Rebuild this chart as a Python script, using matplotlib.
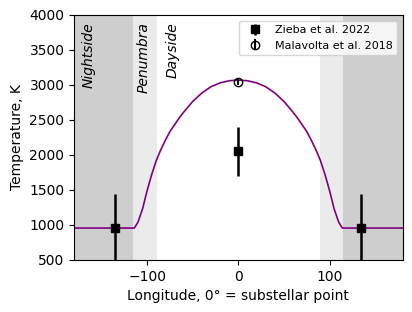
import numpy as np
import matplotlib
matplotlib.use('Agg')
import matplotlib.pyplot as plt

# temperature profile (longitude in deg, T in K)
model_lon = [-180, -114, -110, -105, -100, -95, -90, -85, -80, -75, -70, -65, -60, -50, -40,
             -30, -20, -10, 0, 10, 20, 30, 40, 50, 60, 65, 70, 75, 80, 85, 90, 95, 100,
             105, 110, 114, 180]
model_T = [955, 955, 1040, 1230, 1490, 1720, 1920, 2075, 2210, 2335, 2430, 2525, 2610, 2765, 2885,
           2975, 3030, 3060, 3070, 3060, 3030, 2975, 2885, 2765, 2610, 2525, 2430, 2335, 2210,
           2075, 1920, 1720, 1490, 1230, 1040, 955, 955]

# Zieba et al. 2022
zieba_lon = [-135, 0, 135]
zieba_T = [955, 2050, 955]
zieba_err = [490, 350, 490]

# Malavolta et al. 2018
mala_lon = [0]
mala_T = [3045]
mala_err = [50]

fig = plt.figure(figsize=(4.12, 3.12), dpi=100)
ax = fig.add_axes([0.18, 0.167, 0.797, 0.785])

# shaded regions
ax.axvspan(-180, -115, color='black', alpha=0.12, lw=0)
ax.axvspan(115, 180, color='black', alpha=0.12, lw=0)
ax.axvspan(-180, -89, color='black', alpha=0.08, lw=0)
ax.axvspan(89, 180, color='black', alpha=0.08, lw=0)

ax.plot(model_lon, model_T, color='purple', lw=1.2)

ax.errorbar(zieba_lon, zieba_T, yerr=zieba_err, fmt='s', color='black',
            ms=6, elinewidth=1.8, label='Zieba et al. 2022', zorder=5)
ax.errorbar(mala_lon, mala_T, yerr=mala_err, fmt='o', color='black', mfc='none',
            ms=6, elinewidth=1.5, label='Malavolta et al. 2018', zorder=5)

for xt, s in [(-164, 'Nightside'), (-104, 'Penumbra'), (-72, 'Dayside')]:
    ax.text(xt, 3900, s, rotation=90, style='italic', ha='center', va='top', fontsize=10)

ax.set_xlim(-180, 180)
ax.set_ylim(500, 4000)
ax.set_xticks([-100, 0, 100])
ax.set_xlabel('Longitude, 0° = substellar point')
ax.set_ylabel('Temperature, K')
ax.legend(loc='upper right', fontsize=8)

plt.savefig('out.png', dpi=100)
